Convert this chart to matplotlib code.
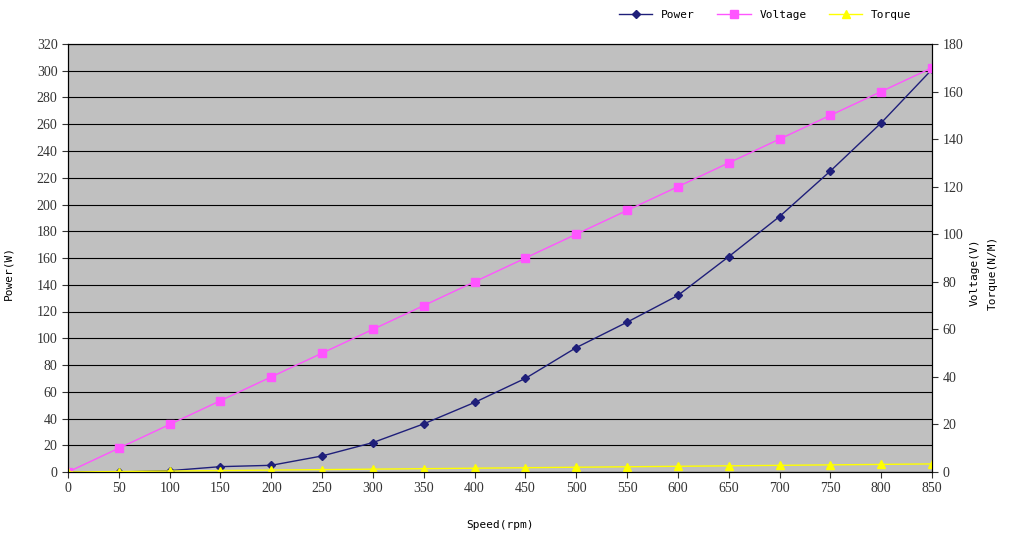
import matplotlib.pyplot as plt
import numpy as np

# data
speed   = [0, 50, 100, 150, 200, 250, 300, 350, 400, 450, 500, 550, 600, 650, 700, 750, 800, 850]
power   = [0, 0, 1, 4, 5, 12, 22, 36, 52, 70, 93, 112, 132, 161, 191, 225, 261, 301]
voltage = [0, 10, 20, 30, 40, 50, 60, 70, 80, 90, 100, 110, 120, 130, 140, 150, 160, 170]
torque  = [0, 0.2, 0.4, 0.6, 0.8, 1.0, 1.2, 1.4, 1.6, 1.8, 2.0, 2.2, 2.4, 2.6, 2.8, 3.0, 3.2, 3.4]

plt.rcParams['font.family'] = ['Liberation Serif', 'DejaVu Serif']

fig = plt.figure(figsize=(10.24, 5.45), dpi=100)
ax1 = fig.add_axes([68/1024, 73/545, 864/1024, 428/545])
ax2 = ax1.twinx()
ax1.set_facecolor('#c0c0c0')

l1, = ax1.plot(speed, power, color='#1f1f7a', marker='D', markersize=4, linewidth=1, label='Power')
l2, = ax2.plot(speed, voltage, color='#ff55ff', marker='s', markersize=6, linewidth=1, label='Voltage')
l3, = ax2.plot(speed, torque, color='#ffff00', marker='^', markersize=6, linewidth=1, label='Torque')

ax1.set_xlim(0, 850)
ax1.set_ylim(0, 320)
ax2.set_ylim(0, 180)
ax1.set_xticks(speed)
ax1.set_yticks(np.arange(0, 321, 20))
ax2.set_yticks(np.arange(0, 181, 20))
ax1.yaxis.grid(True, color='black', linewidth=0.8)
ax1.set_axisbelow(True)
for ax in (ax1, ax2):
    ax.tick_params(labelsize=10, colors='#333333', direction='out', length=4)

ax1.set_xlabel('Speed(rpm)', fontsize=8, family='monospace', labelpad=18)
fig.text(0.008, 0.5, 'Power(W)', rotation=90, fontsize=8, family='monospace', va='center', ha='center')
fig.text(0.952, 0.5, 'Voltage(V)', rotation=90, fontsize=8, family='monospace', va='center', ha='center')
fig.text(0.970, 0.5, 'Torque(N/M)', rotation=90, fontsize=8, family='monospace', va='center', ha='center')

fig.legend(handles=[l1, l2, l3], loc='upper right', bbox_to_anchor=(0.9, 1.0), ncol=3,
           frameon=False, prop={'family': 'monospace', 'size': 8}, handlelength=3)

fig.savefig('out.png', dpi=100, facecolor='white')
